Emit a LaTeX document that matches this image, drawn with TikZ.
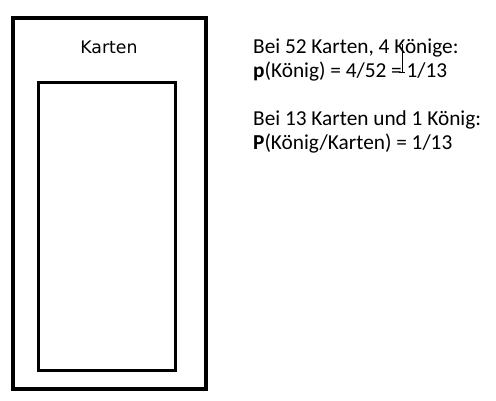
\documentclass[tikz,border=0pt]{standalone}
\usepackage{fontspec}
\setmainfont{Carlito}
\newfontfamily\labelfont{DejaVu Sans}
\begin{document}
\begin{tikzpicture}[x=1pt,y=-1pt,
  box/.style={draw=black,line width=3.2pt},
  inbox/.style={draw=black,line width=3pt},
  txt/.style={anchor=base west,inner sep=0pt,font=\fontsize{21.3}{25}\selectfont}]
\useasboundingbox (0,0) rectangle (496,401);
\draw[box] (13,18) rectangle (206,389);
\draw[inbox] (38,83) rectangle (175,370);
\node[anchor=base,inner sep=0pt,font=\labelfont\fontsize{17.3}{20}\selectfont] (lab) at (109,53.5) {Karten};
\node[txt] (l1) at (253,54) {Bei 52 Karten, 4 Könige:};
\node[txt] (l2) at (253,78) {\textbf{p}(König) = 4/52 = 1/13};
\node[txt] (l3) at (253,126) {Bei 13 Karten und 1 König:};
\node[txt] (l4) at (253,150) {\textbf{P}(König/Karten) = 1/13};
\coordinate (ct) at (402,44);
\coordinate (cb) at (402,72);
\draw[line width=0.8pt] (ct) -- (cb);
\draw[line width=0.8pt] ([xshift=-3pt]cb) -- ([xshift=3pt]cb);
\end{tikzpicture}
\end{document}
